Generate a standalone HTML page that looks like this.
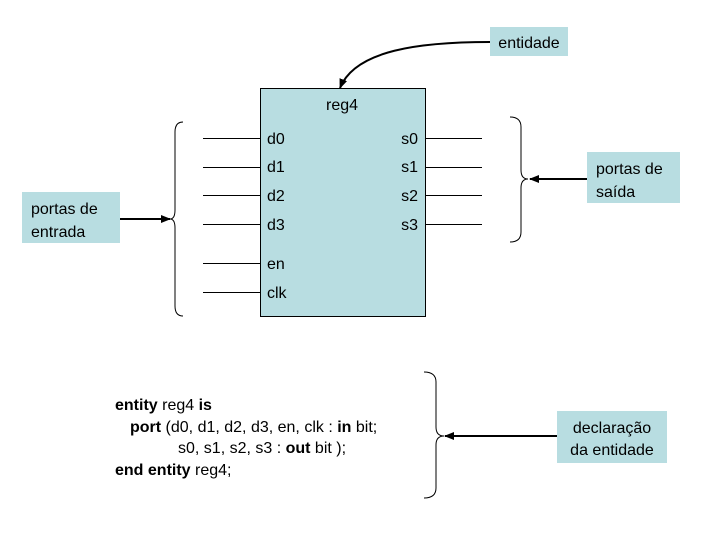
<!DOCTYPE html>
<html><head><meta charset="utf-8"><style>
body{margin:0;background:#fff}
svg text{font-family:"Liberation Sans",Arial,sans-serif;font-size:16px;fill:#000}
</style></head><body>
<svg width="720" height="540" xmlns="http://www.w3.org/2000/svg">
<defs><marker id="a" markerWidth="10" markerHeight="8" refX="9" refY="4" orient="auto" markerUnits="userSpaceOnUse"><path d="M0,0 L10,4 L0,8 z" fill="#000"/></marker></defs>
<rect x="260.5" y="88.5" width="165" height="228" fill="#b8dde1" stroke="#000"/>
<text x="342" y="110" text-anchor="middle">reg4</text>
<g stroke="#000" stroke-width="1">
<line x1="203" y1="138.5" x2="260" y2="138.5"/><line x1="203" y1="167.5" x2="260" y2="167.5"/>
<line x1="203" y1="195.5" x2="260" y2="195.5"/><line x1="203" y1="224.5" x2="260" y2="224.5"/>
<line x1="203" y1="263.5" x2="260" y2="263.5"/><line x1="203" y1="292.5" x2="260" y2="292.5"/>
<line x1="426" y1="138.5" x2="482" y2="138.5"/><line x1="426" y1="167.5" x2="482" y2="167.5"/>
<line x1="426" y1="195.5" x2="482" y2="195.5"/><line x1="426" y1="224.5" x2="482" y2="224.5"/>
</g>
<text x="267" y="144">d0</text><text x="267" y="172">d1</text><text x="267" y="201">d2</text><text x="267" y="230">d3</text>
<text x="267" y="269">en</text><text x="267" y="298">clk</text>
<text x="418" y="144" text-anchor="end">s0</text><text x="418" y="172" text-anchor="end">s1</text><text x="418" y="201" text-anchor="end">s2</text><text x="418" y="230" text-anchor="end">s3</text>
<g fill="none" stroke="#000" stroke-width="1">
<path d="M183,122 Q175,122 175,132 L175,210 Q175,219 170,219 Q175,219 175,228 L175,306 Q175,316 183,316"/>
<path d="M510,117 Q521,117 521,127 L521,170 Q521,179 528,179 Q521,179 521,188 L521,232 Q521,242 510,242"/>
<path d="M424,372 Q436,372 436,382 L436,427 Q436,436 444,436 Q436,436 436,445 L436,488 Q436,498 424,498"/>
</g>
<g stroke="#000" stroke-width="2" fill="none">
<line x1="120" y1="219" x2="170" y2="219" marker-end="url(#a)"/>
<line x1="587" y1="179" x2="530" y2="179" marker-end="url(#a)"/>
<line x1="557" y1="436" x2="445" y2="436" marker-end="url(#a)"/>
<path d="M490,42 C420,42 355,50 340,88" marker-end="url(#a)"/>
</g>
<rect x="490" y="27" width="78" height="29" fill="#b8dde1"/>
<text x="529" y="48" text-anchor="middle">entidade</text>
<rect x="22" y="192" width="98" height="51" fill="#b8dde1"/>
<text x="31" y="214">portas de</text><text x="31" y="237">entrada</text>
<rect x="587" y="152" width="93" height="51" fill="#b8dde1"/>
<text x="596" y="174">portas de</text><text x="596" y="197">saída</text>
<rect x="557" y="411" width="110" height="52" fill="#b8dde1"/>
<text x="612" y="433" text-anchor="middle">declaração</text><text x="612" y="455" text-anchor="middle">da entidade</text>
<text x="115" y="410"><tspan font-weight="bold">entity</tspan> reg4 <tspan font-weight="bold">is</tspan></text>
<text x="130" y="432"><tspan font-weight="bold">port</tspan> (d0, d1, d2, d3, en, clk : <tspan font-weight="bold">in</tspan> bit;</text>
<text x="178" y="453">s0, s1, s2, s3 : <tspan font-weight="bold">out</tspan> bit );</text>
<text x="115" y="475"><tspan font-weight="bold">end entity</tspan> reg4;</text>
</svg>
</body></html>
